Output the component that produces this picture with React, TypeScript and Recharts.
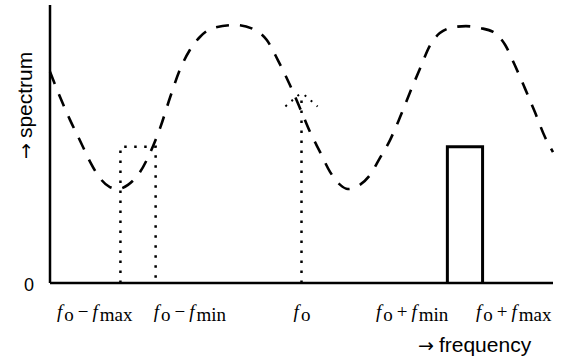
import { ComposedChart, Line, XAxis, YAxis, Label } from 'recharts'

// dashed spectrum curve (frequency 0..100, level 0..100)
const freqX = [
  0, 2, 4, 6, 8, 9.9, 11.9, 13.5, 15.5, 17.9, 19.9, 21.9, 23.9, 25.8, 27.8, 29.8, 32.4, 37, 40.8,
  43.1, 45.3, 47.7, 49.7, 51.7, 53.7, 55.7, 57.7, 59.2, 61.6, 63.6, 65.6, 67.6, 69.6, 71.6, 73.6,
  75.5, 77.5, 80.5, 82.7, 85.5, 88.1, 90.5, 92.4, 94.4, 96.4, 98.4, 100,
]
const spectrumY = [
  76, 66.9, 58.6, 51.1, 43.5, 37.8, 34.5, 33.8, 35.3, 39.9, 46.8, 55.8, 66.9, 76.6, 83.8, 88.5, 91.7,
  92.8, 91, 87.4, 80.2, 71.2, 62.9, 54.3, 47.1, 39.9, 35.3, 33.8, 35.3, 38.8, 45, 51.4, 59.7, 68.7,
  77.3, 85.3, 89.9, 92.1, 92.4, 91.7, 90.3, 85.6, 78.4, 70.1, 61.5, 52.5, 47.1,
]

// lower sideband (dotted), upper sideband (solid)
const lowerBandX = [14, 14, 21, 21]
const lowerBandY = [0, 49, 49, 0]
const upperBandX = [79, 79, 86, 86]
const upperBandY = [0, 49, 49, 0]

// carrier at fo (dotted) with its little cap
const carrierX = [50, 50]
const carrierY = [0, 68]
const carrierCapX = [46.8, 48.4, 50, 51.6, 53.2]
const carrierCapY = [63.5, 66, 68, 66, 63.5]

// tick label positions and their pieces: [subscript of first f, operator, subscript of second f]
const tickPositions = [8.9, 27.8, 50.1, 72, 92.2]
const tickLabels = [
  ['o', '−', 'max'],
  ['o', '−', 'min'],
  ['o'],
  ['o', '+', 'min'],
  ['o', '+', 'max'],
]

const zip = (xs: number[], ys: number[]) => xs.map((x, i) => ({ x, v: ys[i] }))

const curve = zip(freqX, spectrumY)
const lowerBand = zip(lowerBandX, lowerBandY)
const upperBand = zip(upperBandX, upperBandY)
const carrier = zip(carrierX, carrierY)
const carrierCap = zip(carrierCapX, carrierCapY)

const serif = '"Liberation Serif", "DejaVu Serif", serif'
const sans = '"Liberation Sans", Arial, sans-serif'
const arrowFont = '"DejaVu Sans", sans-serif'

function MathTick(props: any) {
  const { x, y, index } = props
  const parts = tickLabels[index] || []
  return (
    <text x={x} y={y + 27} textAnchor="middle" fontFamily={serif} fontSize={19} fill="#000">
      <tspan fontStyle="italic">f</tspan>
      <tspan dx={2} dy={3}>{parts[0]}</tspan>
      {parts.length > 1 && (
        <>
          <tspan dx={4} dy={-3}>{parts[1]}</tspan>
          <tspan dx={4} fontStyle="italic">f</tspan>
          <tspan dx={2} dy={3}>{parts[2]}</tspan>
        </>
      )}
    </text>
  )
}

function ZeroTick(props: any) {
  const { x, y } = props
  return (
    <text x={x - 8} y={y + 8} textAnchor="end" fontFamily={sans} fontSize={18} fill="#000">
      0
    </text>
  )
}

export default function App() {
  return (
    <div style={{ position: 'absolute', left: 0, top: 0, background: '#fff' }}>
      <ComposedChart width={570} height={363} margin={{ top: 5, right: 17, bottom: 0, left: 0 }}>
        <XAxis
          dataKey="x"
          type="number"
          domain={[0, 100]}
          ticks={tickPositions}
          tick={<MathTick />}
          tickLine={false}
          axisLine={{ stroke: '#000', strokeWidth: 2.5 }}
          height={80}
          interval={0}
        >
          <Label
            content={() => (
              <text x={418} y={352} fontFamily={sans} fontSize={21} fill="#000">
                <tspan fontFamily={arrowFont} fontSize={19}>→</tspan>
                <tspan dx={5}>frequency</tspan>
              </text>
            )}
          />
        </XAxis>
        <YAxis
          type="number"
          domain={[0, 100]}
          ticks={[0]}
          tick={<ZeroTick />}
          tickLine={false}
          axisLine={{ stroke: '#000', strokeWidth: 2.5 }}
          width={50}
        >
          <Label
            content={() => (
              <text
                x={0}
                y={0}
                transform="translate(32, 159) rotate(-90)"
                fontFamily={sans}
                fontSize={21}
                fill="#000"
              >
                <tspan fontFamily={arrowFont} fontSize={19}>→</tspan>
                <tspan dx={5}>spectrum</tspan>
              </text>
            )}
          />
        </YAxis>
        <Line
          data={curve}
          dataKey="v"
          type="monotone"
          stroke="#000"
          strokeWidth={2.6}
          strokeDasharray="13 11"
          dot={false}
          isAnimationActive={false}
        />
        <Line
          data={lowerBand}
          dataKey="v"
          type="linear"
          stroke="#000"
          strokeWidth={2.5}
          strokeDasharray="2.5 7.5"
          dot={false}
          isAnimationActive={false}
        />
        <Line
          data={carrier}
          dataKey="v"
          type="linear"
          stroke="#000"
          strokeWidth={2.5}
          strokeDasharray="2.5 7.5"
          dot={false}
          isAnimationActive={false}
        />
        <Line
          data={carrierCap}
          dataKey="v"
          type="monotone"
          stroke="#000"
          strokeWidth={2}
          strokeDasharray="2 6"
          dot={false}
          isAnimationActive={false}
        />
        <Line
          data={upperBand}
          dataKey="v"
          type="linear"
          stroke="#000"
          strokeWidth={3}
          dot={false}
          isAnimationActive={false}
        />
      </ComposedChart>
    </div>
  )
}
